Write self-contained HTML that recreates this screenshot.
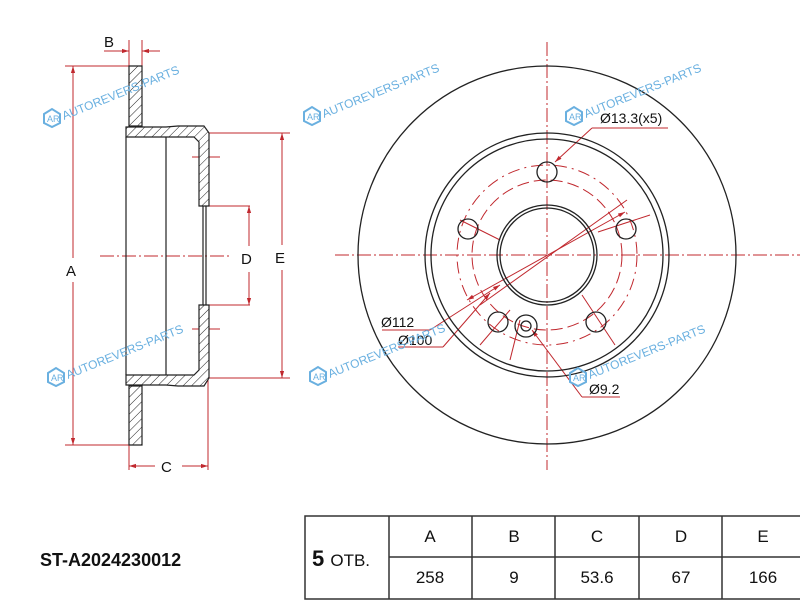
<!DOCTYPE html>
<html><head><style>
html,body{margin:0;padding:0;background:#fff;width:800px;height:600px;overflow:hidden}
svg{display:block}
text{font-family:"Liberation Sans",sans-serif}
</style></head><body>
<svg width="800" height="600" viewBox="0 0 800 600">
<defs>
<pattern id="h" patternUnits="userSpaceOnUse" width="6" height="6" patternTransform="rotate(45)">
<rect width="6" height="6" fill="#fff"/><line x1="0" y1="0" x2="0" y2="6" stroke="#222" stroke-width="1"/>
</pattern>
<marker id="a" viewBox="0 0 10 10" refX="10" refY="5" markerWidth="7" markerHeight="7" orient="auto-start-reverse"><path d="M0,2 L10,5 L0,8z" fill="#c0282e"/></marker>
<g id="wm">
<path d="M-8,-4 L0,-9 L8,-4 L8,5 L0,9 L-8,5z" fill="none" stroke="#6ab0e0" stroke-width="2"/>
<text x="-5" y="4" font-size="9" fill="#6ab0e0">AR</text>
<text x="12" y="2" font-size="12" fill="#6ab0e0" transform="rotate(-22 12 2)">AUTOREVERS-PARTS</text>
</g>
</defs>

<!-- SIDE VIEW -->
<g stroke="#c0282e" stroke-width="1" fill="none">
<line x1="65" y1="66" x2="129" y2="66"/><line x1="65" y1="445" x2="129" y2="445"/>
<line x1="73" y1="66" x2="73" y2="258" marker-start="url(#a)"/>
<line x1="73" y1="282" x2="73" y2="445" marker-end="url(#a)"/>
<line x1="129" y1="40" x2="129" y2="66"/><line x1="142" y1="40" x2="142" y2="66"/>
<line x1="104" y1="51" x2="129" y2="51" marker-end="url(#a)"/>
<line x1="160" y1="51" x2="142" y2="51" marker-end="url(#a)"/>
<line x1="129" y1="445" x2="129" y2="470"/><line x1="208" y1="378" x2="208" y2="470"/>
<line x1="129" y1="466" x2="155" y2="466" marker-start="url(#a)"/>
<line x1="182" y1="466" x2="208" y2="466" marker-end="url(#a)"/>
<line x1="208" y1="133" x2="290" y2="133"/><line x1="208" y1="378" x2="290" y2="378"/>
<line x1="282" y1="133" x2="282" y2="245" marker-start="url(#a)"/>
<line x1="282" y1="270" x2="282" y2="378" marker-end="url(#a)"/>
<line x1="208" y1="206" x2="250" y2="206"/><line x1="208" y1="305" x2="250" y2="305"/>
<line x1="249" y1="206" x2="249" y2="246" marker-start="url(#a)"/>
<line x1="249" y1="272" x2="249" y2="305" marker-end="url(#a)"/>
<line x1="100" y1="256" x2="230" y2="256" stroke-dasharray="14,3,2,3"/>
<line x1="192" y1="157" x2="220" y2="157"/><line x1="192" y1="329" x2="220" y2="329"/>
</g>
<g stroke="#222" stroke-width="1.2" fill="url(#h)">
<path d="M129,66 L142,66 L142,126 L129,126z"/>
<path d="M129,386 L142,386 L142,445 L129,445z"/>
<path d="M126,127 L166,127 L178,126 L204,126 L209,133 L209,206 L199,206 L199,142 L194,137 L166,137 L126,137z"/>
<path d="M126,385 L166,385 L178,386 L204,386 L209,378 L209,305 L199,305 L199,370 L194,375 L166,375 L126,375z"/>
</g>
<g stroke="#222" stroke-width="1.2" fill="none">
<line x1="126" y1="137" x2="126" y2="375"/>
<line x1="166" y1="137" x2="166" y2="375"/>
<line x1="203" y1="206" x2="203" y2="305"/>
<line x1="206" y1="206" x2="206" y2="305"/>
</g>
<g font-size="15" fill="#111">
<text x="104" y="47">B</text><text x="66" y="276">A</text>
<text x="161" y="472">C</text><text x="241" y="264">D</text><text x="275" y="263">E</text>
</g>

<!-- FRONT VIEW -->
<g stroke="#c0282e" stroke-width="1" fill="none">
<line x1="547" y1="42" x2="547" y2="470" stroke-dasharray="14,3,2,3"/>
<line x1="335" y1="255" x2="800" y2="255" stroke-dasharray="14,3,2,3"/>
<circle cx="547" cy="255" r="75" stroke-dasharray="12,5"/>
<circle cx="547" cy="255" r="90" stroke-dasharray="12,5,2,5"/>
<line x1="480" y1="305" x2="627" y2="200"/>
<line x1="467" y1="300" x2="625" y2="212" marker-start="url(#a)" marker-end="url(#a)"/>
<line x1="382" y1="330" x2="430" y2="330"/><line x1="430" y1="330" x2="500" y2="285" marker-end="url(#a)"/>
<line x1="398" y1="347" x2="443" y2="347"/><line x1="443" y1="347" x2="490" y2="293" marker-end="url(#a)"/>
<line x1="668" y1="128" x2="592" y2="128"/><line x1="592" y1="128" x2="555" y2="162" marker-end="url(#a)"/>
<line x1="620" y1="397" x2="582" y2="397"/><line x1="582" y1="397" x2="532" y2="330" marker-end="url(#a)"/>
<line x1="460" y1="220" x2="500" y2="240"/><line x1="598" y1="232" x2="650" y2="215"/>
<line x1="510" y1="310" x2="480" y2="345"/><line x1="520" y1="320" x2="510" y2="360"/>
<line x1="582" y1="295" x2="615" y2="345"/>
</g>
<g stroke="#222" stroke-width="1.3" fill="none">
<circle cx="547" cy="255" r="189"/>
<circle cx="547" cy="255" r="122"/>
<circle cx="547" cy="255" r="116"/>
<circle cx="547" cy="255" r="50"/>
<circle cx="547" cy="255" r="47"/>
<circle cx="547" cy="172" r="10"/>
<circle cx="626" cy="229" r="10"/>
<circle cx="468" cy="229" r="10"/>
<circle cx="596" cy="322" r="10"/>
<circle cx="498" cy="322" r="10"/>
<circle cx="526" cy="326" r="11"/>
<circle cx="526" cy="326" r="5"/>
</g>
<g font-size="14" fill="#111">
<text x="600" y="123">Ø13.3(x5)</text>
<text x="381" y="327">Ø112</text>
<text x="398" y="345">Ø100</text>
<text x="589" y="394">Ø9.2</text>
</g>

<!-- watermarks -->
<use href="#wm" x="52" y="118"/>
<use href="#wm" x="312" y="116"/>
<use href="#wm" x="574" y="116"/>
<use href="#wm" x="56" y="377"/>
<use href="#wm" x="318" y="376"/>
<use href="#wm" x="578" y="377"/>

<!-- title & table -->
<text x="40" y="566" font-size="18" font-weight="bold" fill="#111">ST-A2024230012</text>
<g stroke="#333" stroke-width="1.5" fill="none">
<rect x="305" y="516" width="500" height="83"/>
<line x1="389" y1="516" x2="389" y2="599"/>
<line x1="472" y1="516" x2="472" y2="599"/>
<line x1="555" y1="516" x2="555" y2="599"/>
<line x1="639" y1="516" x2="639" y2="599"/>
<line x1="722" y1="516" x2="722" y2="599"/>
<line x1="389" y1="557" x2="800" y2="557"/>
</g>
<text x="312" y="566" font-size="22" font-weight="bold" fill="#111">5 <tspan font-size="17" font-weight="normal">ОТВ.</tspan></text>
<g font-size="17" fill="#111" text-anchor="middle">
<text x="430" y="542">A</text><text x="514" y="542">B</text><text x="597" y="542">C</text><text x="681" y="542">D</text><text x="763" y="542">E</text>
<text x="430" y="583">258</text><text x="514" y="583">9</text><text x="597" y="583">53.6</text><text x="681" y="583">67</text><text x="763" y="583">166</text>
</g>
</svg>
</body></html>
